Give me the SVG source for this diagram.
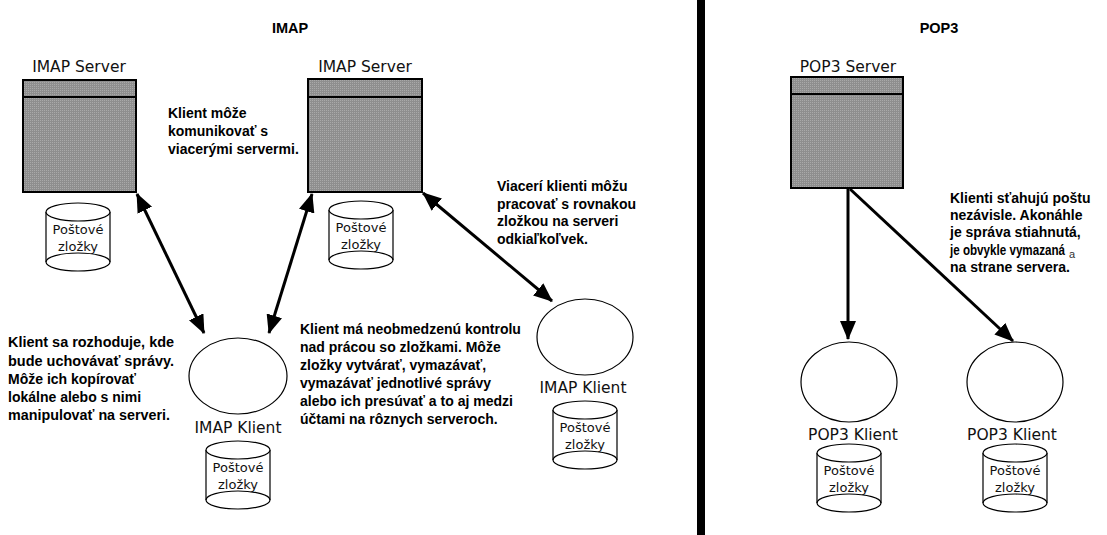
<svg xmlns="http://www.w3.org/2000/svg" xmlns:xlink="http://www.w3.org/1999/xlink" width="1107" height="535" viewBox="0 0 1107 535">
  <style>
    .title { font-family: "Liberation Sans", Arial, sans-serif; font-weight: bold; font-size: 14.5px; fill: #000; }
    .label { font-family: "DejaVu Sans", Verdana, sans-serif; font-size: 15.5px; fill: #111; }
    .store { font-family: "DejaVu Sans", Verdana, sans-serif; font-size: 13px; fill: #111; }
    .note { font-family: "Liberation Sans", Arial, sans-serif; font-weight: bold; font-size: 14px; fill: #000; }
    .server { fill: url(#stipple); stroke: #000; stroke-width: 2; }
    .client { fill: #fff; stroke: #000; stroke-width: 1.2; }
    .link { stroke: #000; stroke-width: 3; fill: none; }
  </style>
  <defs>
    <pattern id="stipple" width="2" height="2" patternUnits="userSpaceOnUse">
      <rect width="2" height="2" fill="#8e8e8e"/>
      <rect width="1" height="1" fill="#a9a9a9"/>
    </pattern>
    <marker id="head" markerUnits="userSpaceOnUse" markerWidth="20" markerHeight="16" refX="18" refY="8" orient="auto-start-reverse">
      <path d="M0,0 L19,8 L0,16 z" fill="#000"/>
    </marker>
    <!-- mail-folder cylinder, origin at top centre -->
    <g id="cyl" fill="#fff" stroke="#000" stroke-width="1.2">
      <path d="M-32,9 L-32,59 A32,9 0 0,0 32,59 L32,9"/>
      <ellipse cx="0" cy="9" rx="32" ry="9"/>
      <path d="M-32,59 A32,9 0 0,1 32,59" fill="none"/>
    </g>
  </defs>

  <rect width="1107" height="535" fill="#fff"/>

  <!-- section titles and divider -->
  <text class="title" x="290" y="33" text-anchor="middle">IMAP</text>
  <text class="title" x="939" y="33" text-anchor="middle">POP3</text>
  <rect x="697" y="0" width="8" height="535" fill="#000"/>

  <!-- IMAP servers -->
  <g id="imap-server-1">
    <text class="label" x="79" y="72" text-anchor="middle">IMAP Server</text>
    <rect class="server" x="23" y="80" width="113" height="112"/>
    <line x1="23" y1="97" x2="136" y2="97" stroke="#000" stroke-width="2"/>
    <use xlink:href="#cyl" x="78" y="203"/>
    <text class="store" x="78" y="234" text-anchor="middle">Poštové</text>
    <text class="store" x="78" y="251" text-anchor="middle">zložky</text>
  </g>

  <g id="imap-server-2">
    <text class="label" x="365" y="72" text-anchor="middle">IMAP Server</text>
    <rect class="server" x="308" y="79" width="114" height="113"/>
    <line x1="308" y1="97" x2="422" y2="97" stroke="#000" stroke-width="2"/>
    <use xlink:href="#cyl" x="361" y="201"/>
    <text class="store" x="361" y="232" text-anchor="middle">Poštové</text>
    <text class="store" x="361" y="249" text-anchor="middle">zložky</text>
  </g>

  <!-- IMAP clients -->
  <g id="imap-client-1">
    <ellipse class="client" cx="238" cy="376" rx="49" ry="38"/>
    <text class="label" x="238" y="433" text-anchor="middle">IMAP Klient</text>
    <use xlink:href="#cyl" x="238" y="441"/>
    <text class="store" x="238" y="472" text-anchor="middle">Poštové</text>
    <text class="store" x="238" y="489" text-anchor="middle">zložky</text>
  </g>

  <g id="imap-client-2">
    <ellipse class="client" cx="585" cy="337" rx="48" ry="38"/>
    <text class="label" x="583" y="393" text-anchor="middle">IMAP Klient</text>
    <use xlink:href="#cyl" x="585" y="401"/>
    <text class="store" x="585" y="432" text-anchor="middle">Poštové</text>
    <text class="store" x="585" y="449" text-anchor="middle">zložky</text>
  </g>

  <!-- POP3 server and clients -->
  <g id="pop3-server">
    <text class="label" x="848" y="72" text-anchor="middle">POP3 Server</text>
    <rect class="server" x="791" y="77" width="112" height="111"/>
    <line x1="791" y1="94" x2="903" y2="94" stroke="#000" stroke-width="2"/>
  </g>

  <g id="pop3-client-1">
    <ellipse class="client" cx="849" cy="382" rx="48" ry="40"/>
    <text class="label" x="853" y="440" text-anchor="middle">POP3 Klient</text>
    <use xlink:href="#cyl" x="849" y="444"/>
    <text class="store" x="849" y="475" text-anchor="middle">Poštové</text>
    <text class="store" x="849" y="492" text-anchor="middle">zložky</text>
  </g>

  <g id="pop3-client-2">
    <ellipse class="client" cx="1015" cy="382" rx="48" ry="40"/>
    <text class="label" x="1012" y="440" text-anchor="middle">POP3 Klient</text>
    <use xlink:href="#cyl" x="1015" y="444"/>
    <text class="store" x="1015" y="475" text-anchor="middle">Poštové</text>
    <text class="store" x="1015" y="492" text-anchor="middle">zložky</text>
  </g>

  <!-- connectors -->
  <g id="connectors">
    <line class="link" x1="137" y1="194" x2="204" y2="333" marker-start="url(#head)" marker-end="url(#head)"/>
    <line class="link" x1="312" y1="194" x2="269" y2="333" marker-start="url(#head)" marker-end="url(#head)"/>
    <line class="link" x1="423" y1="193" x2="552" y2="301" marker-start="url(#head)" marker-end="url(#head)"/>
    <line class="link" x1="848" y1="188" x2="848" y2="339" marker-end="url(#head)"/>
    <line class="link" x1="850" y1="189" x2="1013" y2="341" marker-end="url(#head)"/>
  </g>

  <!-- explanatory notes -->
  <g id="note-servers">
    <text class="note" x="168" y="118">Klient môže</text>
    <text class="note" x="168" y="136">komunikovať s</text>
    <text class="note" x="168" y="154">viacerými servermi.</text>
  </g>

  <g id="note-shared">
    <text class="note" x="497" y="191">Viacerí klienti môžu</text>
    <text class="note" x="497" y="209">pracovať s rovnakou</text>
    <text class="note" x="497" y="226">zložkou na serveri</text>
    <text class="note" x="497" y="244">odkiaľkoľvek.</text>
  </g>

  <g id="note-storage">
    <text class="note" x="8" y="347" textLength="166" lengthAdjust="spacingAndGlyphs">Klient sa rozhoduje, kde</text>
    <text class="note" x="8" y="366" textLength="166" lengthAdjust="spacingAndGlyphs">bude uchovávať správy.</text>
    <text class="note" x="8" y="384">Môže ich kopírovať</text>
    <text class="note" x="8" y="402">lokálne alebo s nimi</text>
    <text class="note" x="8" y="420" textLength="162" lengthAdjust="spacingAndGlyphs">manipulovať na serveri.</text>
  </g>

  <g id="note-control">
    <text class="note" x="300" y="334">Klient má neobmedzenú kontrolu</text>
    <text class="note" x="300" y="352">nad prácou so zložkami. Môže</text>
    <text class="note" x="300" y="370">zložky vytvárať, vymazávať,</text>
    <text class="note" x="300" y="388">vymazávať jednotlivé správy</text>
    <text class="note" x="300" y="406">alebo ich presúvať a to aj medzi</text>
    <text class="note" x="300" y="424">účtami na rôznych serveroch.</text>
  </g>

  <g id="note-pop3">
    <text class="note" x="950" y="203">Klienti sťahujú poštu</text>
    <text class="note" x="950" y="220">nezávisle. Akonáhle</text>
    <text class="note" x="950" y="237">je správa stiahnutá,</text>
    <text class="note" x="950" y="255" textLength="115" lengthAdjust="spacingAndGlyphs">je obvykle vymazaná</text>
    <text x="1069" y="258" font-family="Liberation Sans, Arial, sans-serif" font-size="11" fill="#333">a</text>
    <text class="note" x="950" y="272">na strane servera.</text>
  </g>
</svg>
